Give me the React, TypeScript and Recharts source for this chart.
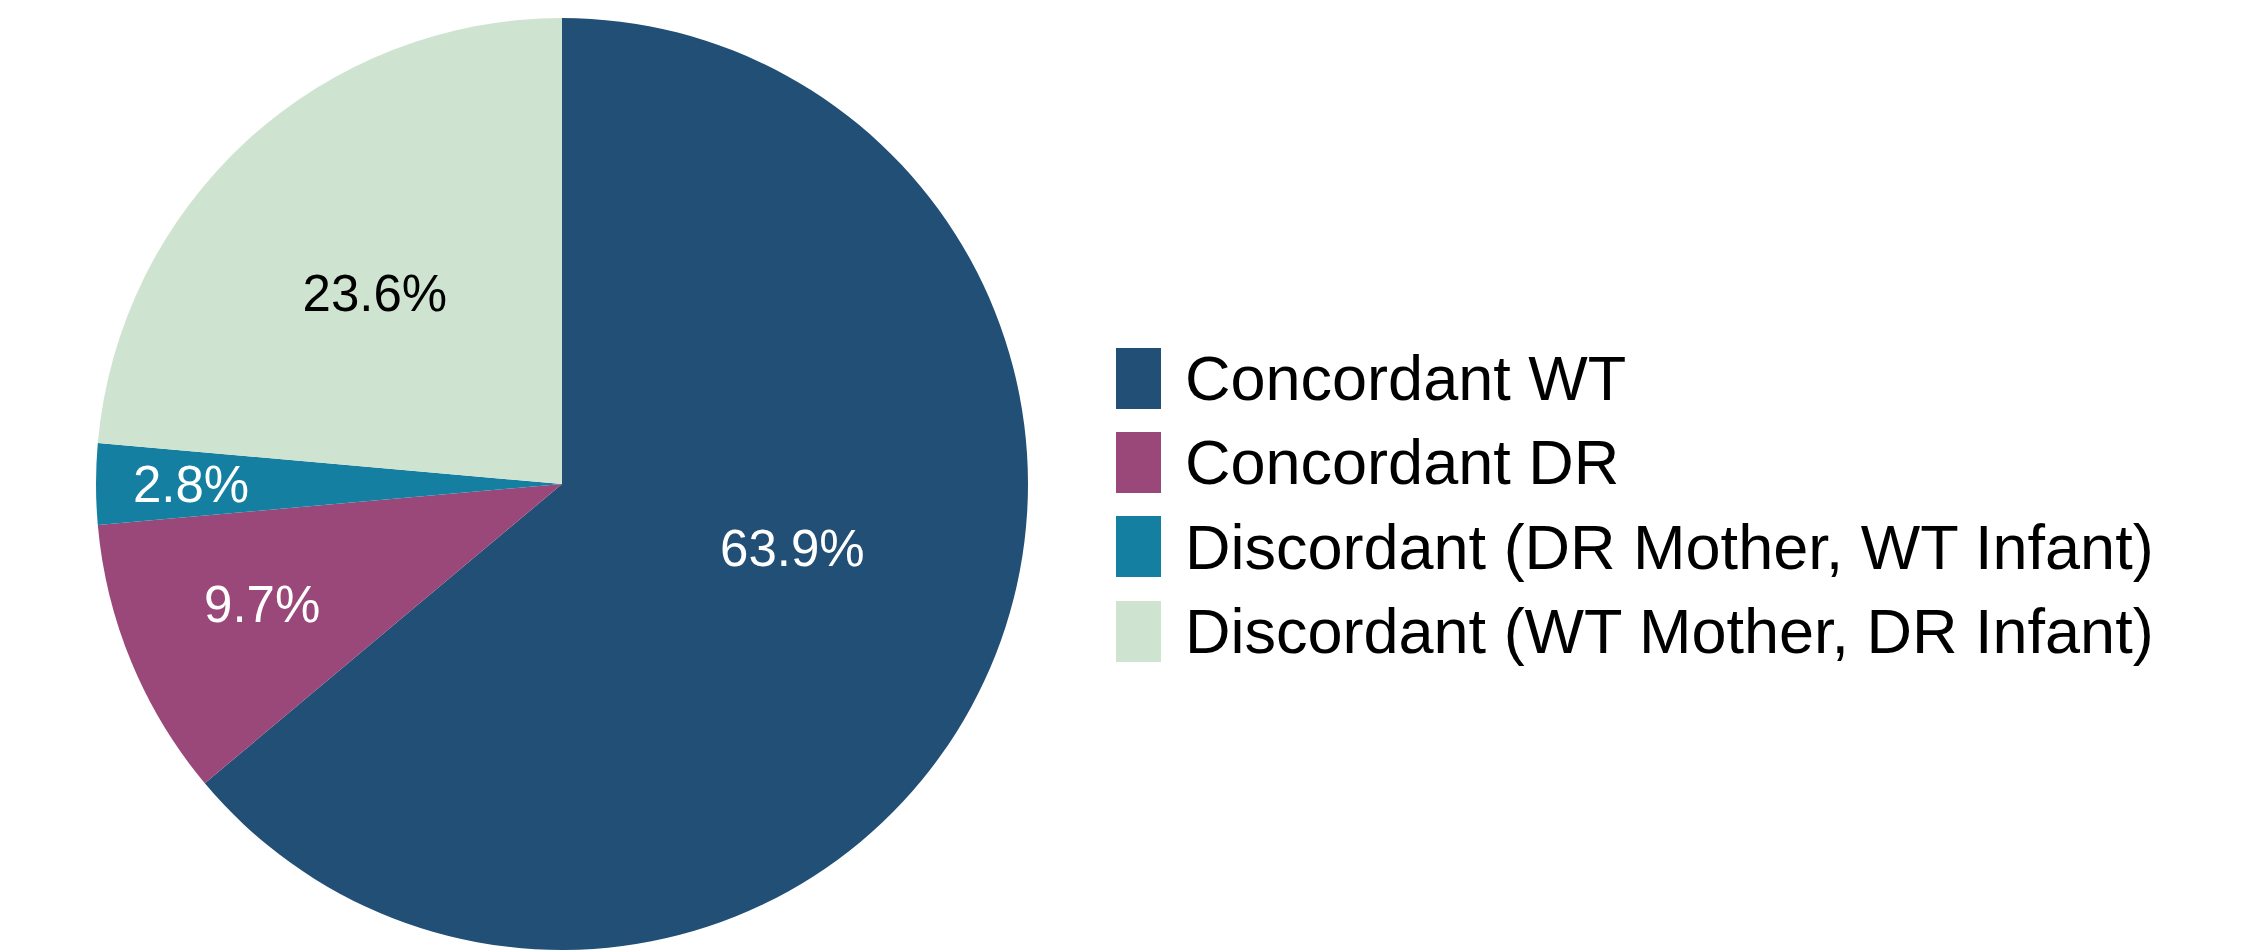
import React from 'react';
import { PieChart, Pie, Cell, Legend } from 'recharts';

const categories = [
  'Concordant WT',
  'Concordant DR',
  'Discordant (DR Mother, WT Infant)',
  'Discordant (WT Mother, DR Infant)',
];
const shares = [63.9, 9.7, 2.8, 23.6];
const colors = ['#224F75', '#9A4879', '#147FA0', '#CFE4D0'];
const labelColors = ['#ffffff', '#ffffff', '#ffffff', '#000000'];

const data = categories.map((name, i) => ({ name, value: shares[i] }));

// hand-tuned label placement: [fraction of radius, angle nudge in degrees]
const labelPlace = [
  [0.513, 9.5],
  [0.693, -0.7],
  [0.796, 0],
  [0.573, 2],
];

const FONT = '"Liberation Sans", Arial, Helvetica, sans-serif';
const RADIAN = Math.PI / 180;

const renderLabel = (props: any) => {
  const { cx, cy, midAngle, outerRadius, index, value } = props;
  const [frac, nudge] = labelPlace[index];
  const r = outerRadius * frac;
  const a = -(midAngle + nudge) * RADIAN;
  const x = cx + r * Math.cos(a);
  const y = cy + r * Math.sin(a);
  return (
    <text
      x={x}
      y={y + 18}
      textAnchor="middle"
      fill={labelColors[index]}
      fontSize={51}
      fontFamily={FONT}
    >
      {`${Number(value).toFixed(1)}%`}
    </text>
  );
};

const renderLegend = (props: any) => {
  const items = [...(props.payload || [])].sort(
    (a: any, b: any) => categories.indexOf(a.value) - categories.indexOf(b.value)
  );
  return (
    <div style={{ fontFamily: FONT, fontSize: 63, color: '#000' }}>
      {items.map((entry: any, i: number) => (
        <div
          key={i}
          style={{ display: 'flex', alignItems: 'center', height: 84.3, whiteSpace: 'nowrap' }}
        >
          <div style={{ width: 45, height: 61, background: entry.color, marginRight: 24 }} />
          <span>{entry.value}</span>
        </div>
      ))}
    </div>
  );
};

export default function App() {
  return (
    <div style={{ position: 'absolute', left: 0, top: 0, width: 2257, height: 950, background: '#fff' }}>
      <PieChart width={2257} height={950} margin={{ top: 0, right: 0, bottom: 0, left: 0 }}>
        <Pie
          data={data}
          dataKey="value"
          nameKey="name"
          cx={562}
          cy={484}
          outerRadius={466}
          startAngle={90}
          endAngle={-270}
          stroke="none"
          label={renderLabel}
          labelLine={false}
          isAnimationActive={false}
        >
          {data.map((d, i) => (
            <Cell key={d.name} fill={colors[i]} />
          ))}
        </Pie>
        <Legend
          layout="vertical"
          align="right"
          verticalAlign="top"
          content={renderLegend}
          wrapperStyle={{ left: 1116, top: 336, right: 'auto', width: 1120 }}
        />
      </PieChart>
    </div>
  );
}
